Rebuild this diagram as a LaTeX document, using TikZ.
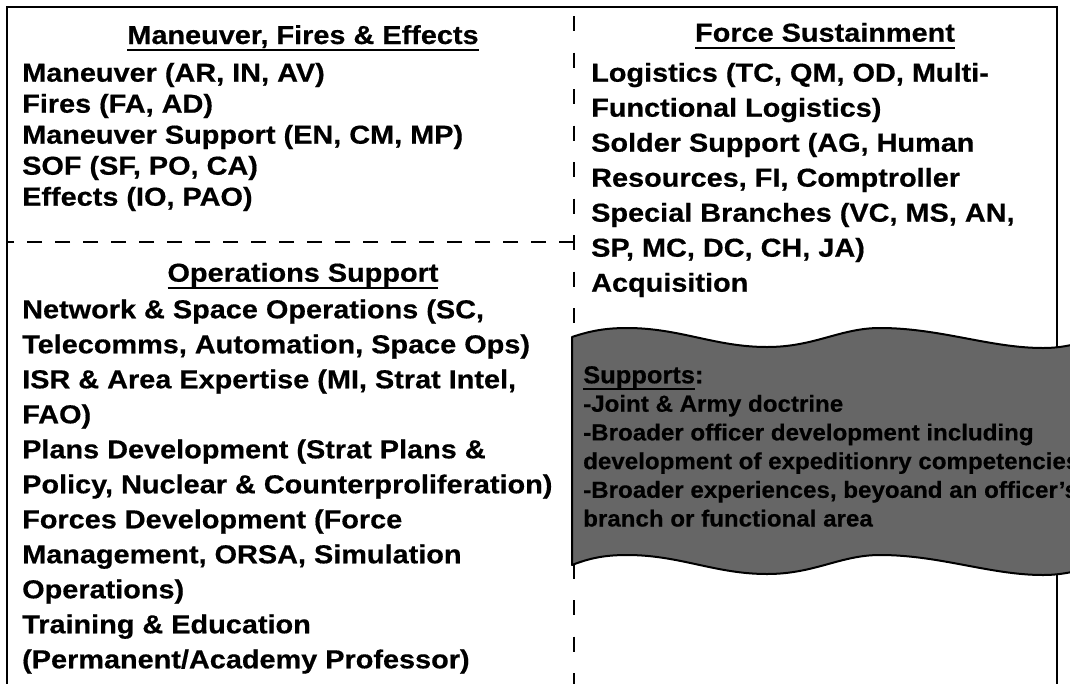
\documentclass[tikz,border=0pt]{standalone}
\usepackage{fontspec}
\newfontfamily\bodyf{Liberation Sans}[UprightFont={* Bold}, FakeStretch=1.11, FakeBold=0.5]
\newfontfamily\wavef{Liberation Sans}[UprightFont={* Bold}, FakeStretch=1.04, FakeBold=0.5]
\newcommand\myul[1]{\setbox0\hbox{#1}\rlap{\rule[-7pt]{\wd0}{2pt}}\box0}
\definecolor{wavegray}{HTML}{666666}
\tikzset{
  body/.style={anchor=base west, inner sep=0pt, font=\bodyf\fontsize{26}{28}\selectfont},
  ttl/.style={anchor=base, inner sep=0pt, font=\bodyf\fontsize{26}{28}\selectfont},
  wtxt/.style={anchor=base west, inner sep=0pt, font=\wavef\fontsize{23.2}{25}\selectfont},
  frameline/.style={line width=2.4pt, line cap=rect},
  dashline/.style={line width=2pt},
  wave/.style={fill=wavegray, draw=black, line width=2pt, line join=round}
}
\begin{document}
\begin{tikzpicture}[x=1pt,y=-1pt]
\useasboundingbox (0,0) rectangle (1070,683);
\clip (0,0) rectangle (1070,683);
% frame
\coordinate (bl) at (7,700);
\coordinate (tl) at (7,7);
\coordinate (tr) at (1057,7);
\coordinate (br) at (1057,700);
\draw[frameline] (bl) -- (tl) -- (tr) -- (br);
% dividers
\coordinate (vt) at (574,7);
\coordinate (vb) at (574,700);
\coordinate (hm) at (574,242);
\coordinate (hl) at (7,242);
\draw[dashline, dash pattern=on 15pt off 21.5pt, dash phase=27.5pt] (vt) -- (vb);
\draw[dashline, dash pattern=on 15pt off 13pt] (hm) -- (hl);
% titles
\node[ttl] (t1) at (303,44) {\myul{Maneuver, Fires \& Effects}};
\node[ttl] (t2) at (303,281.7) {\myul{Operations Support}};
\node[ttl] (t3) at (825,41.7) {\myul{Force Sustainment}};
% left top block
\foreach \s [count=\i] in {{Maneuver (AR, IN, AV)},{Fires (FA, AD)},{Maneuver Support (EN, CM, MP)},{SOF (SF, PO, CA)},{Effects (IO, PAO)}}
  \node[body] (a\i) at (22,{81.7+31*(\i-1)}) {\s};
% left bottom block
\foreach \s [count=\i] in {{Network \& Space Operations (SC,},{Telecomms, Automation, Space Ops)},{ISR \& Area Expertise (MI, Strat Intel,},{FAO)},{Plans Development (Strat Plans \&},{Policy, Nuclear \& Counterproliferation)},{Forces Development (Force},{Management, ORSA, Simulation},{Operations)},{Training \& Education},{(Permanent/Academy Professor)}}
  \node[body] (b\i) at (22,{318.3+35*(\i-1)}) {\s};
% right block
\foreach \s [count=\i] in {{Logistics (TC, QM, OD, Multi-},{Functional Logistics)},{Solder Support (AG, Human},{Resources, FI, Comptroller},{Special Branches (VC, MS, AN,},{SP, MC, DC, CH, JA)},{Acquisition}}
  \node[body] (c\i) at (591,{81.7+35*(\i-1)}) {\s};
% wave
\draw[wave] (572,565) -- (572,337)
  .. controls (590,331) and (605,328) .. (627,328)
  .. controls (680,328) and (715,347) .. (767,347)
  .. controls (815,347) and (840,328) .. (880,328)
  .. controls (940,328) and (990,348) .. (1043,348)
  .. controls (1065,348) and (1080,343) .. (1095,338)
  -- (1095,566)
  .. controls (1080,570) and (1065,575) .. (1043,575)
  .. controls (990,575) and (940,555) .. (880,555)
  .. controls (840,555) and (815,574) .. (767,574)
  .. controls (715,574) and (680,555) .. (627,555)
  .. controls (605,555) and (590,558) .. (572,565) -- cycle;
\node[wtxt, font=\wavef\fontsize{24.5}{26}\selectfont] (w0) at (583,383.3) {\myul{Supports}:};
\foreach \s [count=\i] in {{-Joint \& Army doctrine},{-Broader officer development including},{development of expeditionry competencies},{-Broader experiences, beyoand an officer’s},{branch or functional area}}
  \node[wtxt] (w\i) at (583,{411.7+28.7*(\i-1)}) {\s};
\end{tikzpicture}
\end{document}
